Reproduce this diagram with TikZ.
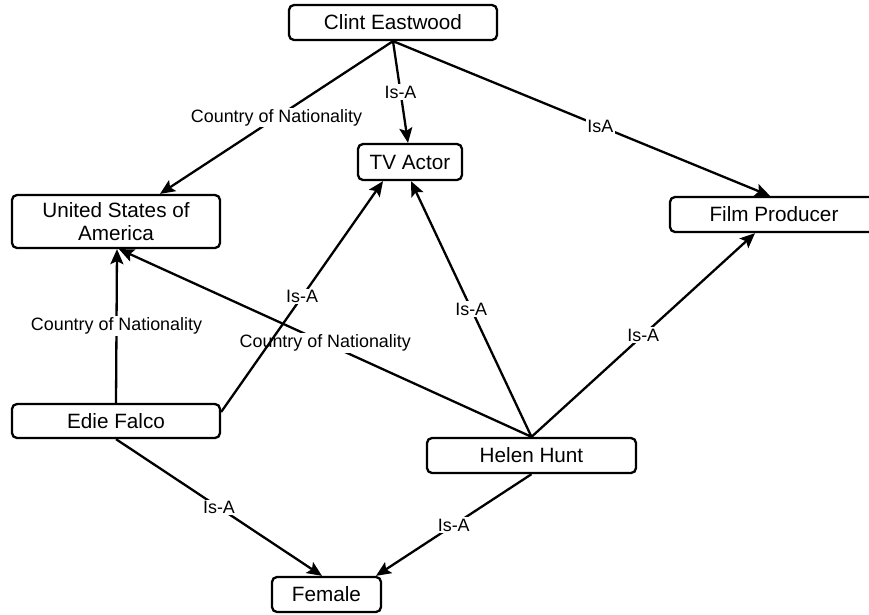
\documentclass[tikz,border=0pt]{standalone}
\usepackage{fontspec}
\setmainfont{Liberation Sans}
\usetikzlibrary{arrows.meta}
\begin{document}
\begin{tikzpicture}[x=1pt,y=-1pt,
  entity/.style={draw, line width=2.3pt, rounded corners=5pt, fill=white,
    inner sep=0pt, minimum height=35pt, align=center,
    font=\fontsize{20.7}{22.5}\selectfont},
  rel/.style={line width=2.3pt, -{Stealth[length=15pt,width=13pt,inset=3pt]}},
  lbl/.style={fill=white, inner sep=1.5pt, font=\fontsize{17.9}{20}\selectfont}]
\useasboundingbox (0,0) rectangle (869,614);

% concepts
\node[entity, minimum width=208pt] (clint) at (393,22.5) {Clint Eastwood};
\node[entity, minimum width=104pt, minimum height=36pt] (tv) at (410,162) {TV Actor};
\node[entity, minimum width=208pt, minimum height=53pt] (usa) at (116,221.5) {United States of\\America};
\node[entity, minimum width=208pt] (film) at (774,214.5) {Film Producer};
\node[entity, minimum width=208pt, minimum height=34pt] (edie) at (116,421) {Edie Falco};
\node[entity, minimum width=209pt] (helen) at (531.5,455.5) {Helen Hunt};
\node[entity, minimum width=109pt] (fem) at (326.5,594.5) {Female};

% relations
\draw[rel] (clint.south) -- node[lbl] {Country of Nationality} ([xshift=44pt]usa.north);
\draw[rel] (clint.south) -- node[lbl] {Is-A} ([xshift=-2pt]tv.north);
\draw[rel] (clint.south) -- node[lbl, pos=0.55] {IsA} ([xshift=-4pt]film.north);
\draw[rel] (edie.north) -- node[lbl] {Country of Nationality} ([xshift=1pt]usa.south);
\draw[rel] (helen.north) -- node[lbl] {Country of Nationality} ([xshift=3pt]usa.south);
\draw[rel] ([yshift=9pt]edie.east) -- node[lbl] {Is-A} ([xshift=-27pt]tv.south);
\draw[rel] (helen.north) -- node[lbl] {Is-A} ([xshift=1pt]tv.south);
\draw[rel] (helen.north) -- node[lbl] {Is-A} ([xshift=-19pt]film.south);
\draw[rel] (edie.south) -- node[lbl] {Is-A} ([xshift=-4.5pt]fem.north);
\draw[rel] (helen.south) -- node[lbl] {Is-A} ([xshift=49.5pt]fem.north);
\end{tikzpicture}
\end{document}
